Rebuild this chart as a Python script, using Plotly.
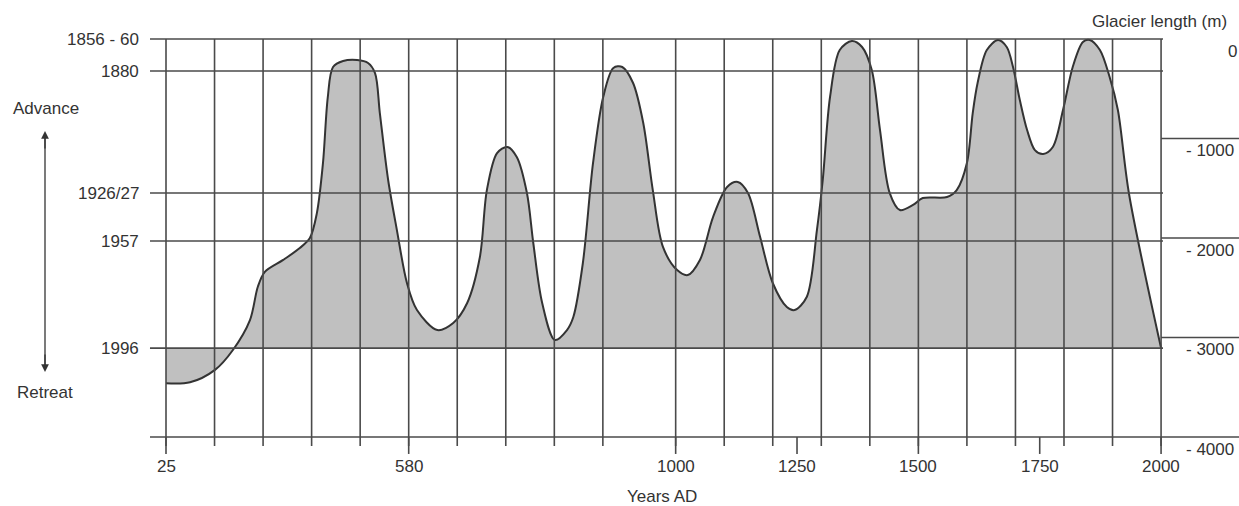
import numpy as np
import plotly.graph_objects as go

# ---------------- data ----------------
YEARS = [25, 80, 137, 178, 217, 235, 251, 293, 331, 354, 370, 384, 395, 407, 430, 462,
         487, 503, 514, 533, 553, 576, 593, 625, 650, 672, 692, 703, 719, 735, 750, 766,
         776, 790, 810, 829, 839, 854, 870, 886, 902, 916, 933, 949, 964, 980, 1003, 1025,
         1050, 1077, 1106, 1128, 1149, 1174, 1200, 1229, 1245, 1270, 1291, 1303, 1318,
         1338, 1363, 1384, 1404, 1421, 1441, 1462, 1489, 1509, 1559, 1579, 1600, 1612,
         1622, 1641, 1664, 1682, 1695, 1709, 1724, 1740, 1757, 1777, 1798, 1818, 1839,
         1853, 1874, 1894, 1911, 1934, 2000]
LENGTH_M = [-3460, -3450, -3325, -3125, -2825, -2490, -2340, -2220, -2100, -2000, -1750,
            -1245, -583, -281, -221, -211, -241, -342, -744, -1417, -1920, -2452, -2724,
            -2925, -2854, -2653, -2191, -1518, -1146, -1085, -1186, -1548, -2050, -2653,
            -3025, -2925, -2794, -2251, -1246, -583, -291, -281, -442, -844, -1518, -2090,
            -2322, -2372, -2221, -1789, -1487, -1437, -1548, -1990, -2452, -2693, -2724,
            -2593, -1920, -1417, -583, -111, -20, -80, -312, -915, -1548, -1719, -1668,
            -1598, -1588, -1518, -1246, -744, -442, -111, -10, -80, -281, -613, -915,
            -1116, -1156, -1085, -714, -281, -30, -10, -111, -382, -714, -1558, -3106]

YEAR_TICKS = [25, 580, 1000, 1250, 1500, 1750, 2000]
YEAR_TICK_LABELS = ["25", "580", "1000", "1250", "1500", "1750", "2000"]

STATE_LABELS = ["1856 - 60", "1880", "1926/27", "1957", "1996"]
STATE_LENGTH_M = [0, -322, -1548, -2030, -3106]

LENGTH_TICKS = [0, -1000, -2000, -3000, -4000]
LENGTH_TICK_LABELS = ["0", "- 1000", "- 2000", "- 3000", "- 4000"]

# piecewise (broken) time axis of the original chart: years -> grid units
AXIS_YEARS = [25, 580, 1000, 2000]
AXIS_UNITS = [0, 5, 10.5, 20.5]
GRID_UNITS = list(range(0, 10)) + [10.5 + i for i in range(11)]


def xpos(years):
    return np.interp(years, AXIS_YEARS, AXIS_UNITS)


BASE = STATE_LENGTH_M[-1]
LINE = "#4a4a4a"
TXT = "#333333"
FONT = "Liberation Sans, Arial, sans-serif"
FS = 17

fig = go.Figure()
xc = xpos(YEARS)
fig.add_trace(go.Scatter(x=[xc[0], xc[-1]], y=[BASE, BASE], mode="lines",
                         line=dict(width=0), hoverinfo="skip", showlegend=False))
fig.add_trace(go.Scatter(x=xc, y=LENGTH_M, mode="lines", fill="tonexty",
                         fillcolor="#c0c0c0",
                         line=dict(color="#333333", width=2, shape="spline", smoothing=0.9),
                         showlegend=False))

shapes = []
x_left = -0.33
x_right = 20.54
x_edge = 22.3
for m in STATE_LENGTH_M:
    shapes.append(dict(type="line", xref="x", yref="y", x0=x_left, x1=x_right, y0=m, y1=m,
                       line=dict(color=LINE, width=1.6)))
shapes.append(dict(type="line", xref="x", yref="y", x0=x_left, x1=x_edge,
                   y0=LENGTH_TICKS[-1], y1=LENGTH_TICKS[-1], line=dict(color=LINE, width=1.6)))
for m in LENGTH_TICKS[1:-1]:
    shapes.append(dict(type="line", xref="x", yref="y", x0=AXIS_UNITS[-1], x1=x_edge, y0=m, y1=m,
                       line=dict(color=LINE, width=1.6)))
for g in GRID_UNITS:
    shapes.append(dict(type="line", xref="x", yref="y", x0=g, x1=g, y0=0, y1=-4090,
                       line=dict(color=LINE, width=1.6)))
for yr in YEAR_TICKS:
    g = float(xpos(yr))
    shapes.append(dict(type="line", xref="x", yref="y", x0=g, x1=g, y0=-4000, y1=-4170,
                       line=dict(color=LINE, width=1.6)))
# shaft of the Advance/Retreat arrow
shapes.append(dict(type="line", xref="paper", yref="paper", x0=45 / 1239, x1=45 / 1239,
                   y0=1 - 134 / 506, y1=1 - 369 / 506, line=dict(color="#333333", width=1.3)))

ann = []
for yr, lab in zip(YEAR_TICKS, YEAR_TICK_LABELS):
    ann.append(dict(x=float(xpos(yr)), y=-4300, xref="x", yref="y", text=lab, showarrow=False,
                    xanchor="center", yanchor="middle", font=dict(size=FS, color=TXT, family=FONT)))
for m, lab in zip(STATE_LENGTH_M, STATE_LABELS):
    ann.append(dict(x=141 / 1239, y=m, xref="paper", yref="y", text=lab, showarrow=False,
                    xanchor="right", yanchor="middle", font=dict(size=FS, color=TXT, family=FONT)))
for m, lab in zip(LENGTH_TICKS, LENGTH_TICK_LABELS):
    x0 = 1226 if lab == "0" else 1184
    ann.append(dict(x=x0 / 1239, y=m - 125, xref="paper", yref="y", text=lab, showarrow=False,
                    xanchor="left", yanchor="middle", font=dict(size=FS, color=TXT, family=FONT)))
ann.append(dict(x=1090 / 1239, y=1 - 22 / 506, xref="paper", yref="paper", text="Glacier length (m)",
                showarrow=False, xanchor="left", yanchor="middle",
                font=dict(size=FS, color=TXT, family=FONT)))
ann.append(dict(x=662 / 1239, y=1 - 496 / 506, xref="paper", yref="paper", text="Years AD",
                showarrow=False, xanchor="center", yanchor="middle",
                font=dict(size=FS, color=TXT, family=FONT)))
ann.append(dict(x=11 / 1239, y=1 - 108 / 506, xref="paper", yref="paper", text="Advance",
                showarrow=False, xanchor="left", yanchor="middle",
                font=dict(size=FS, color=TXT, family=FONT)))
ann.append(dict(x=15 / 1239, y=1 - 392 / 506, xref="paper", yref="paper", text="Retreat",
                showarrow=False, xanchor="left", yanchor="middle",
                font=dict(size=FS, color=TXT, family=FONT)))
# arrow heads
for tip, tail in [(131, 150), (372, 353)]:
    ann.append(dict(x=45 / 1239, y=1 - tip / 506, xref="paper", yref="paper",
                    ax=0, ay=tail - tip, text="", showarrow=True, arrowhead=2,
                    arrowsize=1.2, arrowwidth=1.3, arrowcolor="#333333"))

fig.update_layout(
    width=1239, height=506,
    margin=dict(l=0, r=0, t=0, b=0),
    paper_bgcolor="white", plot_bgcolor="white",
    xaxis=dict(range=[-166 / 48.54, 1073 / 48.54], visible=False, fixedrange=True),
    yaxis=dict(range=[-4693, 392], visible=False, fixedrange=True),
    shapes=shapes, annotations=ann, showlegend=False,
)

fig.write_html("out.html", config={"displayModeBar": False},
               post_script="document.body.style.margin='0';document.body.style.overflow='hidden';")
